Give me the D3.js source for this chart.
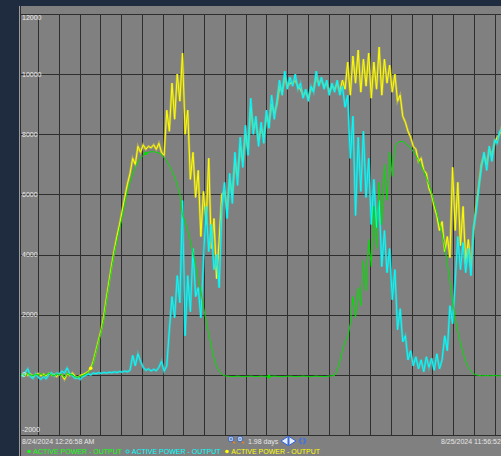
<!DOCTYPE html>
<html>
<head>
<meta charset="utf-8">
<script src="https://cdn.jsdelivr.net/npm/d3@7"></script>
<style>
body { margin: 0; background: #1f2b3e; }
svg { display: block; }
</style>
</head>
<body>
<div id="chart"></div>
<script>
var width = 501, height = 456;

// time window of the trend (samples every 15 min from startTime)
var startTime = new Date(2024, 7, 24, 0, 26, 58);
var endTime = new Date(2024, 7, 25, 23, 56, 52);
var stepMinutes = 15;

var yTicks = [12000, 10000, 8000, 6000, 4000, 2000, 0, -2000];

var greenValues = [0,0,30,-40,50,0,-30,20,0,40,
  -20,10,60,0,-30,30,0,20,-100,60,
  0,10,-60,-80,-50,-20,30,80,170,400,
  750,1100,1450,1850,2450,3000,3550,4050,4450,4850,
  5250,5700,6100,6400,6680,6900,7080,7200,7300,7360,
  7400,7420,7420,7400,7380,7320,7220,7120,6950,6780,
  6580,6330,6000,5300,5100,4800,4450,4080,3650,3180,
  2800,2250,1800,1350,950,560,280,120,20,-30,
  -40,-50,-60,-50,-40,-50,-60,-50,-50,-40,
  -50,-60,-50,-40,-50,-50,-60,-50,-40,-50,
  -50,-60,-50,-50,-40,-50,-60,-50,-50,-40,
  -50,-50,-60,-50,-40,-50,-50,-60,-50,-40,
  -30,-20,150,450,800,1100,1250,1700,2600,1900,
  2900,2300,3800,2800,4500,3600,5600,4200,6400,5000,
  7000,5800,7400,6600,7600,7720,7760,7760,7700,7620,
  7560,7420,7300,7130,6950,6780,6560,6330,6050,5720,
  5400,5050,4700,4250,3700,3100,2450,1900,1450,1050,
  730,450,250,120,30,0,-20,-30,-30,-20,
  -30,-30,-20,-30,-30,-20];

var cyanValues = [0,50,-40,80,200,-60,-120,40,-80,-150,
  -60,-130,0,70,-40,60,10,120,60,230,
  40,-30,-120,-90,-150,-60,-20,30,0,60,
  40,70,50,80,60,90,70,100,80,110,
  90,130,100,150,650,300,700,450,250,150,
  200,130,180,140,250,450,120,300,1500,2600,
  1900,3300,2400,5800,1300,3300,2100,4200,2600,2900,
  1900,3800,5600,4100,5000,3500,4000,2900,5500,6400,
  5200,6700,5700,7400,6300,7900,6900,8300,7300,9200,
  8000,8600,7600,8400,7700,8800,8200,9300,8500,9100,
  9800,9300,10100,9500,9900,9600,10000,9500,9700,9200,
  9500,9100,9600,9400,10100,9600,9900,9500,9800,9300,
  9700,9400,9800,9300,9600,8900,9300,7200,8600,5300,
  7900,6100,8100,5900,7200,5000,6500,4900,5800,3600,
  4800,3400,4200,2500,3500,1500,2200,1100,1300,500,
  800,300,600,200,500,100,600,250,550,150,
  700,200,500,1300,800,2300,1700,3100,4600,3500,
  4400,3400,4200,3300,4900,5400,6200,6900,7400,6800,
  7600,7100,7800,7700,8100,8200];

var yellowValues = [0,20,-30,60,-20,30,-50,10,40,-30,
  20,-40,50,-10,20,-60,30,0,-150,40,
  -20,60,-40,-100,-20,10,50,100,220,450,
  800,1150,1500,1950,2550,3100,3650,4150,4600,5000,
  5450,5900,6350,6700,7200,7000,7600,7400,7650,7500,
  7600,7550,7650,7500,7700,7400,7300,8800,8100,9700,
  8500,10000,9100,10700,8000,8800,6500,7400,5900,6800,
  4600,6100,5000,7200,4200,5200,3200,4500,6000,6100,
  5500,6500,6000,7100,6600,7600,7100,8000,7500,8900,
  8200,8400,7800,8200,7900,8600,8400,9000,8700,9000,
  9600,9400,9900,9600,9700,9700,9800,9600,9500,9300,
  9400,9200,9500,9500,9900,9700,9800,9600,9700,9400,
  9600,9500,9700,9400,9800,9500,10400,9300,10600,9700,
  10800,9400,10500,9600,10700,9200,10400,9500,10900,9300,
  10500,9700,10300,9400,10000,9100,9300,8600,8400,8100,
  7900,7600,7500,7100,7200,6800,6700,6200,6000,5600,
  5300,4800,5100,4100,4600,3900,6900,4800,6400,4300,
  5600,3700,4500,3600,4800,5600,6300,7000,7300,7000,
  7500,7300,7700,7900,8000,8300];

var legendNames = ["ACTIVE POWER - OUTPUT", "ACTIVE POWER - OUTPUT", "ACTIVE POWER - OUTPUT"];
var greenMarkers = [49, 96];
var yellowMarkers = [28];

var colGreen = "#00e000", colCyan = "#00ffff", colYellow = "#ffff00";
var font = "'Liberation Sans', Arial, sans-serif";

var svg = d3.select("#chart").append("svg")
  .attr("width", width)
  .attr("height", height);

// dark frame + gray panel
svg.append("rect").attr("width", width).attr("height", height).attr("fill", "#1f2b3e");
svg.append("rect").attr("x", 19).attr("y", 6).attr("width", width - 19).attr("height", height - 6).attr("fill", "#808080");
svg.append("line").attr("x1", 19.5).attr("x2", 19.5).attr("y1", 6).attr("y2", height).attr("stroke", "#9c9c9c");
svg.append("line").attr("x1", 20.5).attr("x2", 20.5).attr("y1", 6).attr("y2", height).attr("stroke", "#303030");

var x = d3.scaleTime()
  .domain([startTime, endTime])
  .range([17.3, 515.5]);

var y = d3.scaleLinear()
  .domain([-2000, 12000])
  .range([435, 14]);

function toPoints(values) {
  return values.map(function (v, i) {
    return { t: new Date(startTime.getTime() + i * stepMinutes * 60000), v: v };
  });
}

// grid: 24 equal time divisions
var span = endTime - startTime;
var gridTimes = d3.range(1, 24).map(function (k) { return new Date(startTime.getTime() + k * span / 24); });

var grid = svg.append("g").attr("class", "grid");
grid.selectAll("line.v")
  .data(gridTimes)
  .enter().append("line")
  .attr("class", "v")
  .attr("x1", function (d) { return Math.round(x(d)) + 0.5; })
  .attr("x2", function (d) { return Math.round(x(d)) + 0.5; })
  .attr("y1", 14).attr("y2", 435)
  .attr("stroke", "#2e2e2e");

grid.selectAll("line.h")
  .data(yTicks)
  .enter().append("line")
  .attr("class", "h")
  .attr("x1", 21).attr("x2", width)
  .attr("y1", function (d) { return Math.round(y(d)) + 0.5; })
  .attr("y2", function (d) { return Math.round(y(d)) + 0.5; })
  .attr("stroke", "#2e2e2e");

svg.append("clipPath").attr("id", "plotClip")
  .append("rect").attr("x", 21).attr("y", 14).attr("width", width - 21).attr("height", 421);

var line = d3.line()
  .x(function (d) { return x(d.t); })
  .y(function (d) { return y(d.v); });

var plot = svg.append("g").attr("clip-path", "url(#plotClip)");

var series = [
  { values: yellowValues, color: colYellow, halo: "#c8c040" },
  { values: cyanValues, color: colCyan, halo: "#40c4c4" },
  { values: greenValues, color: colGreen, halo: null }
];

series.forEach(function (s) {
  var pts = toPoints(s.values);
  // softer, wider trace under the bright one (min/max band look)
  if (s.halo) {
    plot.append("path")
      .datum(pts)
      .attr("d", line)
      .attr("fill", "none")
      .attr("stroke", s.halo)
      .attr("stroke-opacity", 0.7)
      .attr("stroke-width", 2.4);
  }
  plot.append("path")
    .datum(pts)
    .attr("d", line)
    .attr("fill", "none")
    .attr("stroke", s.color)
    .attr("stroke-width", 1);
});

var gPts = toPoints(greenValues), yPts = toPoints(yellowValues);
plot.selectAll("circle.gm")
  .data(greenMarkers.map(function (i) { return gPts[i]; }))
  .enter().append("circle")
  .attr("cx", function (d) { return x(d.t); })
  .attr("cy", function (d) { return y(d.v); })
  .attr("r", 1.8).attr("fill", colGreen);
plot.selectAll("circle.ym")
  .data(yellowMarkers.map(function (i) { return yPts[i]; }))
  .enter().append("circle")
  .attr("cx", function (d) { return x(d.t); })
  .attr("cy", function (d) { return y(d.v); })
  .attr("r", 1.8).attr("fill", colYellow);

// y labels inside the plot, left aligned
svg.selectAll("text.ylab")
  .data(yTicks)
  .enter().append("text")
  .attr("class", "ylab")
  .attr("x", 22)
  .attr("y", function (d) {
    if (d === 12000) return y(d) + 4;
    if (d === -2000) return y(d) - 5;
    return y(d);
  })
  .attr("dy", "0.35em")
  .attr("font-family", font)
  .attr("font-size", 7)
  .attr("fill", "#ececec")
  .text(function (d) { return d; });

// footer
svg.append("text").attr("x", 22).attr("y", 443.5)
  .attr("font-family", font).attr("font-size", 7).attr("fill", "#e6e6e6")
  .text("8/24/2024 12:26:58 AM");
svg.append("text").attr("x", 441).attr("y", 443.5)
  .attr("font-family", font).attr("font-size", 7).attr("fill", "#e6e6e6")
  .text("8/25/2024 11:56:52");
svg.append("text").attr("x", 248).attr("y", 443.5)
  .attr("font-family", font).attr("font-size", 7).attr("fill", "#e6e6e6")
  .text("1.98 days");

// zoom icons
[231, 240].forEach(function (cx, i) {
  svg.append("line").attr("x1", cx + 1.5).attr("y1", 441).attr("x2", cx + 4).attr("y2", 443.5)
    .attr("stroke", "#e08020").attr("stroke-width", 1.6);
  svg.append("circle").attr("cx", cx).attr("cy", 439).attr("r", 2.8)
    .attr("fill", "#bcd4f4").attr("stroke", "#3a5fb0").attr("stroke-width", 0.9);
  svg.append("line").attr("x1", cx - 1.4).attr("x2", cx + 1.4).attr("y1", 439).attr("y2", 439)
    .attr("stroke", "#3a5fb0").attr("stroke-width", 0.8);
  if (i === 0) {
    svg.append("line").attr("x1", cx).attr("x2", cx).attr("y1", 437.6).attr("y2", 440.4)
      .attr("stroke", "#3a5fb0").attr("stroke-width", 0.8);
  }
});

// scroll arrows
svg.append("path").attr("d", "M281,441 L288,436.5 L288,445.5 Z").attr("fill", "#e8f0ff").attr("stroke", "#2f63e0").attr("stroke-width", 1);
svg.append("path").attr("d", "M296,441 L289,436.5 L289,445.5 Z").attr("fill", "#e8f0ff").attr("stroke", "#2f63e0").attr("stroke-width", 1);

// refresh icon
var arc = d3.arc().innerRadius(2).outerRadius(3.6);
svg.append("path").attr("transform", "translate(302.5,441)")
  .attr("d", arc({ startAngle: 0.3, endAngle: 2.8 })).attr("fill", "#3f6fe8");
svg.append("path").attr("transform", "translate(302.5,441)")
  .attr("d", arc({ startAngle: 3.45, endAngle: 5.95 })).attr("fill", "#3f6fe8");

// legend
var legendX = [29, 127.5, 227];
var legendColors = ["#10ff10", colCyan, colYellow];
legendNames.forEach(function (name, i) {
  if (i === 1) {
    svg.append("circle").attr("cx", legendX[i]).attr("cy", 451.5).attr("r", 1.6)
      .attr("fill", "none").attr("stroke", legendColors[i]).attr("stroke-width", 0.9);
  } else {
    svg.append("circle").attr("cx", legendX[i]).attr("cy", 451.5).attr("r", 1.8)
      .attr("fill", legendColors[i]);
  }
  svg.append("text").attr("x", legendX[i] + 4.3).attr("y", 454)
    .attr("font-family", font).attr("font-size", 7).attr("fill", legendColors[i])
    .text(name);
});
</script>
</body>
</html>
